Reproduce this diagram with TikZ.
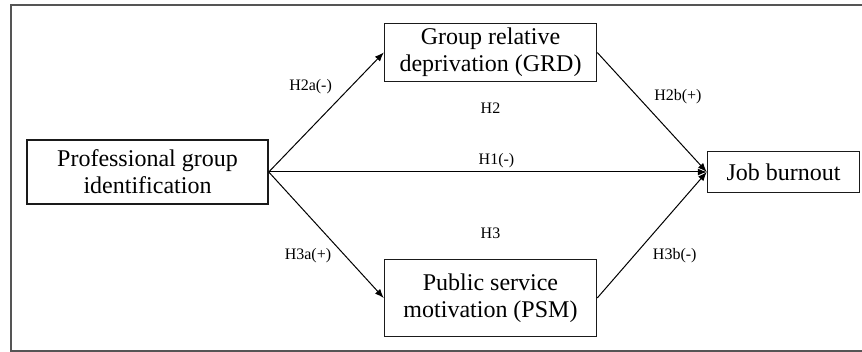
\documentclass[tikz,border=0pt]{standalone}
\usepackage{fontspec}
\setmainfont{Liberation Serif}
\usetikzlibrary{arrows.meta,positioning}
\definecolor{framegray}{HTML}{555555}
\definecolor{boxblack}{HTML}{1A1A1A}

\begin{document}
\begin{tikzpicture}[
  var/.style={draw=boxblack, line width=0.75pt, align=center, inner sep=0pt,
              font=\fontsize{12}{13.5}\selectfont},
  arr/.style={-{Latex[length=4.5pt, width=3.5pt]}, black, line width=0.5pt},
  lbl/.style={font=\fontsize{8}{9.6}\selectfont, inner sep=1pt},
]
\useasboundingbox (0,0) rectangle (431pt,-176pt);

%% Marco exterior (abierto a la derecha)
\draw[framegray, line width=0.8pt] (440pt,-2.5pt) -- (5.5pt,-2.5pt) -- (5.5pt,-175.5pt) -- (440pt,-175.5pt);

%% Variables
\node[var, minimum width=120.5pt, minimum height=32pt] (pgi) at (73.75pt,-86pt) {Professional group\\identification};
\node[var, minimum width=106pt, minimum height=29pt, above right=28.5pt and 57.5pt of pgi.north east, anchor=south west] (grd) {Group relative\\deprivation (GRD)};
\node[var, minimum width=106pt, minimum height=38.5pt, below right=27pt and 57.5pt of pgi.south east, anchor=north west] (psm) {Public service\\motivation (PSM)};
\node[var, minimum width=76pt, minimum height=20.5pt, right=219pt of pgi.east, anchor=west] (jb) {Job burnout};

%% Efectos
\draw[arr] (pgi.east) -- node[lbl, pos=0.71, left=8pt] {H2a(-)} (grd.west);
\draw[arr] (pgi.east) -- node[lbl, pos=0.66, left=5.5pt] {H3a(+)} (psm.west);
\draw[arr] (pgi.east) -- node[lbl, pos=0.52, above=1pt] {H1(-)} (pgi.east -| jb.west);
\draw[arr] (grd.east) -- node[lbl, pos=0.37, right=7pt] {H2b(+)} (jb.west);
\draw[arr] (psm.east) -- node[lbl, pos=0.34, right=8pt] {H3b(-)} (jb.west);

%% Efectos indirectos
\node[lbl, below=9pt of grd] (h2) {H2};
\node[lbl, above=9pt of psm] (h3) {H3};

\end{tikzpicture}
\end{document}
